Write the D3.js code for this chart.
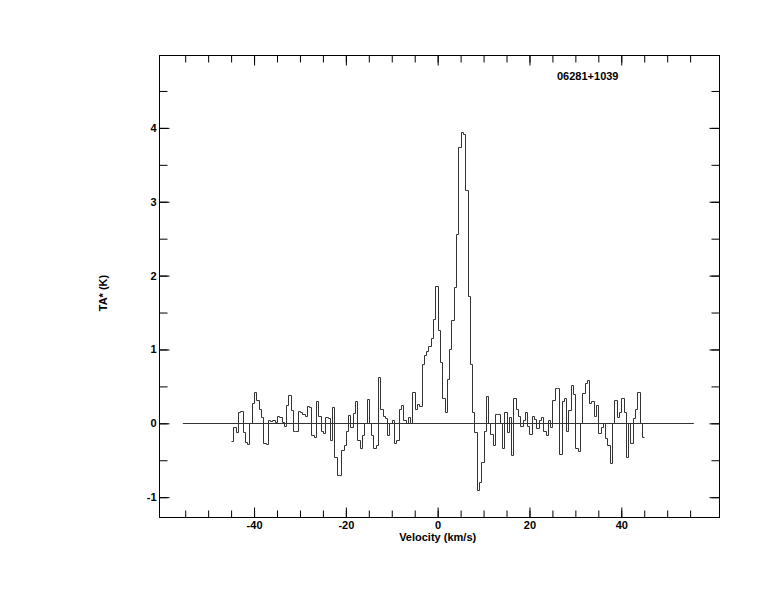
<!DOCTYPE html>
<html><head><meta charset="utf-8">
<script src="https://cdn.jsdelivr.net/npm/d3@7"></script>
<style>
html,body{margin:0;padding:0;background:#fff;}
text{font-family:"Liberation Sans",Arial,Helvetica,sans-serif;font-weight:bold;font-size:11px;fill:#000;}
</style></head>
<body><svg id="chart" width="774" height="612"></svg>
<script>
// ---- data ----
const sourceName = "06281+1039";
const xTitle = "Velocity (km/s)";
const yTitle = "TA* (K)";
const velStart = -45;        // km/s, first channel left edge
const chanWidth = 0.5;       // km/s per channel
const taValues = [
 -0.24,-0.05,-0.12,0.15,0.17,-0.12,-0.25,-0.28,0.0,0.27,
 0.43,0.32,0.19,0.08,-0.26,-0.28,0.05,0.03,0.05,0.02,
 0.1,0.08,0.02,-0.03,0.25,0.38,0.18,-0.1,-0.1,0.17,
 0.16,0.12,0.1,0.23,0.22,-0.16,-0.18,0.3,0.1,-0.11,
 -0.13,0.08,0.07,-0.22,0.22,-0.45,-0.7,-0.7,-0.36,-0.3,
 -0.1,0.11,-0.05,0.14,0.3,-0.23,-0.34,-0.16,0.0,0.33,
 0.0,-0.16,-0.34,-0.3,0.63,0.2,0.1,0.07,-0.16,0.0,
 0.04,-0.26,-0.22,0.19,0.25,0.05,0.0,0.09,0.0,0.43,
 0.2,0.26,0.23,0.8,0.92,0.98,1.05,1.15,1.41,1.86,
 1.26,0.83,0.34,0.16,0.6,1.0,1.4,1.85,2.57,3.74,
 3.95,3.92,3.16,1.72,0.8,0.15,-0.12,-0.9,-0.8,-0.52,
 -0.1,0.37,0.0,-0.14,-0.3,0.13,0.13,0.0,-0.33,0.16,
 -0.12,0.08,-0.43,0.34,0.2,0.1,-0.04,0.05,0.16,-0.04,
 -0.14,0.1,0.06,-0.07,0.05,0.09,-0.11,-0.16,0.05,-0.05,
 0.32,0.48,0.48,-0.42,0.3,0.34,-0.11,0.18,0.52,0.4,
 -0.33,-0.38,0.0,0.41,0.55,0.59,0.27,0.3,0.1,0.25,
 -0.13,-0.05,0.0,-0.2,-0.3,-0.54,0.0,0.31,0.09,0.16,
 0.34,0.15,-0.45,0.0,-0.26,0.07,0.2,0.42,0.0,-0.18
];
const baselineRange = [-55.5, 55.8];
const xDomain = [-60.6, 61.4];
const yDomain = [-1.275, 4.98];
const xMajorTicks = [-40,-20,0,20,40];
const xMinorTicks = [-55,-50,-45,-40,-35,-30,-25,-20,-15,-10,-5,0,5,10,15,20,25,30,35,40,45,50,55];
const yMajorTicks = [-1,0,1,2,3,4];
const yMinorTicks = [-1,-0.5,0,0.5,1,1.5,2,2.5,3,3.5,4,4.5];

// ---- layout ----
const L = 159.5, R = 719.5, T = 55.5, B = 517.5;
const svg = d3.select("#chart");
const x = d3.scaleLinear().domain(xDomain).range([L, R]);
const y = d3.scaleLinear().domain(yDomain).range([B, T]);
const ink = "#000";

// spectrum points (step after)
const pts = taValues.map((v,i)=>[velStart + i*chanWidth, v]);
pts.push([velStart + taValues.length*chanWidth, taValues[taValues.length-1]]);

// baseline
svg.append("line")
  .attr("x1", x(baselineRange[0])).attr("x2", x(baselineRange[1]))
  .attr("y1", Math.round(y(0))+0.5).attr("y2", Math.round(y(0))+0.5)
  .attr("stroke", "#333").attr("stroke-width", 1);

// spectrum
const line = d3.line().x(d=>Math.round(x(d[0]))+0.5).y(d=>Math.round(y(d[1]))+0.5).curve(d3.curveStepAfter);
svg.append("path").datum(pts).attr("d", line)
  .attr("fill","none").attr("stroke","#333").attr("stroke-width",1);

// frame
svg.append("rect").attr("x",L).attr("y",T).attr("width",R-L).attr("height",B-T)
  .attr("fill","none").attr("stroke",ink).attr("stroke-width",1);

// axes using d3 axis generators (ticks inward)
function fmt(d){ return String(d); }
const gx = svg.append("g");
// bottom
gx.append("g").attr("transform",`translate(0,${B})`)
  .call(d3.axisBottom(x).tickValues(xMinorTicks).tickSize(-7).tickFormat(""));
gx.append("g").attr("transform",`translate(0,${B})`)
  .call(d3.axisBottom(x).tickValues(xMajorTicks).tickSize(-10).tickPadding(4).tickFormat(fmt));
// top
gx.append("g").attr("transform",`translate(0,${T})`)
  .call(d3.axisTop(x).tickValues(xMinorTicks).tickSize(-7).tickFormat(""));
gx.append("g").attr("transform",`translate(0,${T})`)
  .call(d3.axisTop(x).tickValues(xMajorTicks).tickSize(-10).tickFormat(""));
// left
gx.append("g").attr("transform",`translate(${L},0)`)
  .call(d3.axisLeft(y).tickValues(yMinorTicks).tickSize(-8).tickFormat(""));
gx.append("g").attr("transform",`translate(${L},0)`)
  .call(d3.axisLeft(y).tickValues(yMajorTicks).tickSize(-10).tickPadding(3).tickFormat(fmt));
// right
gx.append("g").attr("transform",`translate(${R},0)`)
  .call(d3.axisRight(y).tickValues(yMinorTicks).tickSize(-8).tickFormat(""));
gx.append("g").attr("transform",`translate(${R},0)`)
  .call(d3.axisRight(y).tickValues(yMajorTicks).tickSize(-10).tickFormat(""));

gx.selectAll(".domain").remove();
gx.selectAll(".tick line").attr("stroke",ink);
gx.selectAll("text").attr("font-family",null).attr("font-size",null).attr("fill",ink);

// titles
svg.append("text").attr("x", x(0)).attr("y", 541).attr("text-anchor","middle").text(xTitle);
svg.append("text").attr("transform","translate(107,293) rotate(-90)").attr("text-anchor","middle").text(yTitle);
svg.append("text").attr("x", 557).attr("y", 80).text(sourceName);
</script></body></html>
